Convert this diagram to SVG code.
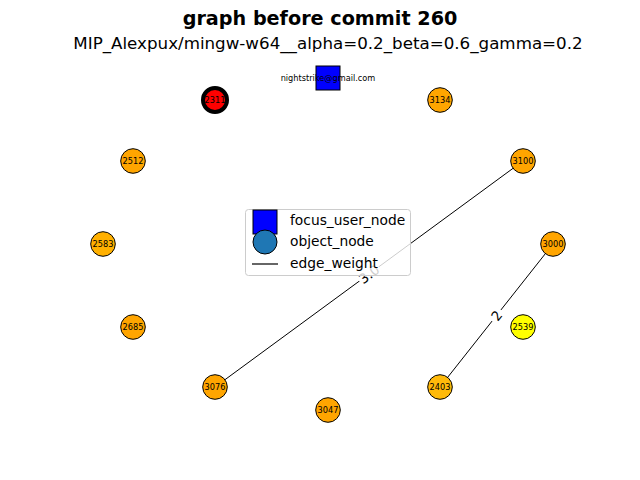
<svg xmlns="http://www.w3.org/2000/svg" width="640" height="480" viewBox="0 0 640 480">
<style>
text{font-family:"DejaVu Sans","Liberation Sans",sans-serif;fill:#000}
.n{stroke:#000;stroke-width:1}
.o{fill:#FFA500}
.nl{font-size:8.2px;text-anchor:middle;dominant-baseline:central}
.e{stroke:#000;stroke-width:1;fill:none}
.el{font-size:13.5px;text-anchor:middle;dominant-baseline:central}
.lg{font-size:13.8px}
</style>
<rect width="640" height="480" fill="#fff"/>
<text x="320" y="25" font-size="19.2" font-weight="bold" text-anchor="middle">graph before commit 260</text>
<text x="328" y="49" font-size="16.7" text-anchor="middle">MIP_Alexpux/mingw-w64__alpha=0.2_beta=0.6_gamma=0.2</text>
<g id="connectors">
<line class="e" x1="523" y1="161" x2="215" y2="387"/>
<line class="e" x1="553" y1="244" x2="440" y2="387"/>
<g transform="translate(369,274) rotate(-36.3)"><rect x="-12" y="-8" width="24" height="16" fill="#fff"/><text class="el" x="0" y="0">3.0</text></g>
<g transform="translate(496.5,315.5) rotate(-51.7)"><rect x="-7" y="-8" width="14" height="16" fill="#fff"/><text class="el" x="0" y="0">2</text></g>
</g>
<g id="focus"><rect class="n" x="316" y="66" width="24" height="24" fill="#0000ff"/><text class="nl" x="328" y="78">nightstrike@gmail.com</text></g>
<g id="n2311"><circle cx="215" cy="100" r="12" fill="#ff0000" stroke="#000" stroke-width="4"/><text class="nl" x="215" y="100">2311</text></g>
<g id="n3134"><circle class="n o" cx="440" cy="100" r="12.3"/><text class="nl" x="440" y="100">3134</text></g>
<g id="n2512"><circle class="n o" cx="133" cy="161" r="12.3"/><text class="nl" x="133" y="161">2512</text></g>
<g id="n3100"><circle class="n o" cx="523" cy="161" r="12.3"/><text class="nl" x="523" y="161">3100</text></g>
<g id="n2583"><circle class="n" cx="103" cy="244" r="12.3" fill="#FFB000"/><text class="nl" x="103" y="244">2583</text></g>
<g id="n3000"><circle class="n o" cx="553" cy="244" r="12.3"/><text class="nl" x="553" y="244">3000</text></g>
<g id="n2685"><circle class="n o" cx="133" cy="327" r="12.3"/><text class="nl" x="133" y="327">2685</text></g>
<g id="n2539"><circle class="n" cx="523" cy="327" r="12.3" fill="#ffff00"/><text class="nl" x="523" y="327">2539</text></g>
<g id="n3076"><circle class="n o" cx="215" cy="387" r="12.3"/><text class="nl" x="215" y="387">3076</text></g>
<g id="n2403"><circle class="n" cx="440" cy="387" r="12.3" fill="#FFBA0A"/><text class="nl" x="440" y="387">2403</text></g>
<g id="n3047"><circle class="n o" cx="328" cy="410" r="12.3"/><text class="nl" x="328" y="410">3047</text></g>
<g id="legend">
<rect x="245.5" y="209.5" width="165" height="66" rx="3" fill="#fff" fill-opacity="0.8" stroke="#ccc"/>
<rect class="n" x="253" y="210" width="24" height="24" fill="#0000ff"/>
<circle class="n" cx="265" cy="242" r="12" fill="#1f77b4"/>
<line x1="252" y1="264" x2="278" y2="264" stroke="#000" stroke-width="1.2"/>
<text class="lg" x="290" y="225">focus_user_node</text>
<text class="lg" x="290" y="246">object_node</text>
<text class="lg" x="290" y="268">edge_weight</text>
</g>
</svg>
